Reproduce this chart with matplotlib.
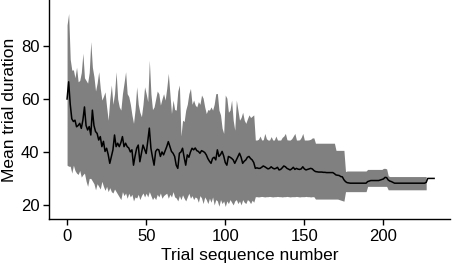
import numpy as np
import matplotlib
matplotlib.use("Agg")
import matplotlib.pyplot as plt

# mean trial duration for every trial sequence number (0..232)
mean_dur = [
    60, 66.5, 58, 52.5, 51.5, 52, 49.5, 50, 50.8, 48.9,
    52, 57, 50, 48.3, 49.6, 46.4, 55.8, 50, 47.7, 47,
    44.5, 45.8, 42, 44, 40.2, 41.4, 39, 35.7, 38.3, 40.8,
    46.4, 42, 43.3, 42, 43.5, 45.8, 42, 43.3, 42, 41.5,
    40, 40.8, 35, 38.5, 41.4, 42.6, 36.3, 39.5, 42.6, 41,
    39.4, 44, 49, 41.4, 38, 35, 40.2, 41, 40.8, 38.3,
    40, 38.9, 40.5, 42, 43.9, 42, 40.2, 39.5, 38.3, 35,
    33.8, 39.5, 40, 41.4, 38, 35, 38.9, 38, 40, 41.4,
    40.8, 41.5, 40.5, 40.2, 39.5, 40.5, 40.2, 39.8, 38.9, 37.5,
    36.5, 35.7, 37.6, 38, 37, 40.8, 38.3, 39, 40.2, 38.5,
    36, 35, 38.3, 38, 37.6, 37, 35.7, 37, 38.3, 39.5,
    38, 35.7, 36.5, 37, 38, 38.3, 37.5, 37, 36, 33.8,
    34, 33.8, 33.8, 34.2, 34.7, 34.4, 34, 33.6, 33.8, 34.4,
    33.9, 33.6, 33.8, 34.2, 33.2, 33.4, 34, 34.7, 34.4, 33.8,
    33.5, 33.2, 33.6, 34.2, 33.4, 33.8, 33.5, 33.4, 33.6, 34.4,
    33.6, 33.2, 33.4, 33.6, 33.8, 33.6, 33, 32.6, 32.5, 32.4,
    32.4, 32.4, 32.3, 32.3, 32.2, 32.2, 32.2, 32.2, 32.2, 31.8,
    31.3, 31.2, 31.1, 30.7, 30.6, 29.5, 28.8, 28.4, 28.3, 28.2,
    28.2, 28.2, 28.2, 28.2, 28.2, 28.2, 28.2, 28.2, 28.2, 28.2,
    28.8, 29, 29.2, 29.2, 29.2, 29.2, 29.2, 29.2, 29.4, 29.6,
    29.8, 30.4, 30.3, 29.4, 29, 28.8, 28.5, 28.2, 28.2, 28.2,
    28.2, 28.2, 28.2, 28.2, 28.2, 28.2, 28.2, 28.2, 28.2, 28.2,
    28.2, 28.2, 28.2, 28.2, 28.2, 28.2, 28.2, 28.5, 30, 30,
    30, 30, 30,
]

# upper edge of the ribbon (trials 0..227)
upper = [
    88, 92.3, 75, 70.9, 71, 68, 72, 66.5, 67, 70,
    77.3, 68, 67, 66, 70, 81.7, 72, 68.4, 63, 66,
    70.3, 64, 59.6, 61, 62.7, 57, 52, 60, 65.3, 58,
    62, 70.3, 60, 57, 55.8, 62, 66, 70.3, 62, 60.9,
    58, 54, 50.8, 56, 64.6, 58, 55, 53.3, 58, 64.6,
    62, 59, 74.7, 62, 56, 57, 60, 63, 62, 57.7,
    60, 62, 59.6, 64, 69.7, 62, 54.5, 59.6, 56, 55.8,
    63, 65.3, 46, 52, 51.5, 55.8, 58, 62, 64, 58,
    59.6, 57.7, 57, 59, 58, 61.5, 60.3, 57, 54.5, 56,
    55.8, 57, 55.8, 58, 62, 62.1, 55.8, 54, 49, 47,
    61.5, 60.3, 55, 55.8, 59.6, 52, 48.2, 59.6, 55.8, 52,
    53, 55, 52, 50.8, 52.5, 54, 53, 53.5, 54, 44.5,
    44.5, 44.8, 46, 44.5, 44.6, 47, 45, 44.5, 44.5, 45.8,
    44.5, 44.5, 46, 44.5, 44.5, 44.5, 45.5, 46, 47, 44.6,
    44.5, 44.5, 45, 46, 47, 44.5, 44.5, 44.6, 45.5, 47,
    44.5, 44.5, 44.5, 44.6, 44.8, 45.3, 45.3, 43.3, 43.3, 43.3,
    43.3, 43.3, 43.3, 43.3, 43.3, 43.3, 43.3, 43.3, 43.3, 43.3,
    40.6, 40.6, 40.6, 40.6, 40.6, 40.6, 32.6, 32.8, 32.8, 32.8,
    32.8, 32.8, 32.8, 32.8, 32.8, 32.8, 32.8, 32.8, 32.8, 32.8,
    33.4, 33.4, 33.4, 33.4, 33.4, 33.4, 33.4, 33.4, 33.4, 33.4,
    33.8, 33.8, 33.6, 31, 30.7, 30.7, 30.7, 30.7, 30.7, 30.7,
    30.7, 30.7, 30.7, 30.7, 30.7, 30.7, 30.7, 30.7, 30.7, 30.7,
    30.7, 30.7, 30.7, 30.7, 30.7, 30.7, 30.7, 30.7,
]

# lower edge of the ribbon (trials 0..227)
lower = [
    35, 34.6, 34.6, 32, 35, 33, 32, 31.5, 33, 30.5,
    31.4, 32, 29, 27, 30, 30, 29, 28, 25.7, 28,
    27, 26, 28.9, 27, 25.5, 27, 25, 26.5, 25, 24.5,
    26, 25, 24, 23, 22, 25, 23.5, 24.5, 22.5, 24.4,
    23, 24, 21.5, 23, 22.6, 24, 22, 23.5, 24.5, 23,
    24.4, 23, 25, 23.5, 22, 23, 22, 24, 23, 24.5,
    22.5, 23.5, 24, 24.4, 22.5, 24, 23, 25, 23, 22.6,
    21.5, 23.5, 22, 23.8, 22.5, 21.5, 23, 24.4, 22.5, 23.5,
    22, 23, 22.6, 21, 23.5, 22.6, 20.5, 23, 22, 20.5,
    22.5, 21, 23, 20, 22, 21.5, 19.5, 22, 20.5, 21.5,
    19.4, 21.5, 20.5, 22, 21, 20, 21.5, 22, 20.5, 21.5,
    20, 22, 21, 20.5, 22, 21.5, 20.5, 21.8, 21, 23.1,
    23.1, 23.0, 23.1, 23.2, 23.1, 23.0, 23.1, 23.1, 23.2, 23.1,
    23.0, 23.1, 23.1, 23.2, 23.1, 23.1, 23.0, 23.1, 23.1, 23.2,
    23.1, 23.0, 23.1, 23.1, 23.1, 23.2, 23.1, 23.0, 23.1, 23.1,
    23.1, 23.2, 23.1, 23.1, 23.0, 23.1, 23.1, 22.2, 22.2, 22.2,
    22.2, 22.2, 22.2, 22.2, 22.2, 22.2, 22.2, 22.2, 22.2, 22.2,
    22.2, 22.2, 22.0, 21.8, 21.6, 21.4, 25, 25, 25, 25,
    25, 25, 25, 25, 25, 25, 25, 25, 25, 25,
    27, 27, 27, 27, 27, 27, 27, 27, 27, 27,
    27, 27, 27, 25.7, 25.7, 25.7, 25.7, 25.7, 25.7, 25.7,
    25.7, 25.7, 25.7, 25.7, 25.7, 25.7, 25.7, 25.7, 25.7, 25.7,
    25.7, 25.7, 25.7, 25.7, 25.7, 25.7, 25.7, 25.7,
]

trials = np.arange(len(mean_dur))
band_trials = np.arange(len(upper))

plt.rcParams['font.family'] = ['Liberation Sans', 'DejaVu Sans']

fig = plt.figure(figsize=(4.54, 2.66), dpi=100)
ax = fig.add_axes([0.108, 0.177, 0.883, 0.823])

ax.fill_between(band_trials, lower, upper, color='#808080', linewidth=0)
ax.plot(trials, mean_dur, color='black', linewidth=1.1)

ax.set_xlim(-11.4, 242)
ax.set_ylim(14.7, 97.4)
ax.set_xticks([0, 50, 100, 150, 200])
ax.set_yticks([20, 40, 60, 80])

ax.spines['top'].set_visible(False)
ax.spines['right'].set_visible(False)
ax.spines['left'].set_linewidth(1.0)
ax.spines['bottom'].set_linewidth(1.0)
ax.tick_params(direction='out', length=4, width=1.0, labelsize=12, colors='black', pad=3)

ax.set_xlabel('Trial sequence number', fontsize=12.5, labelpad=3)
ax.set_ylabel('Mean trial duration', fontsize=12.5, labelpad=3)

fig.savefig('out.png', dpi=100)
